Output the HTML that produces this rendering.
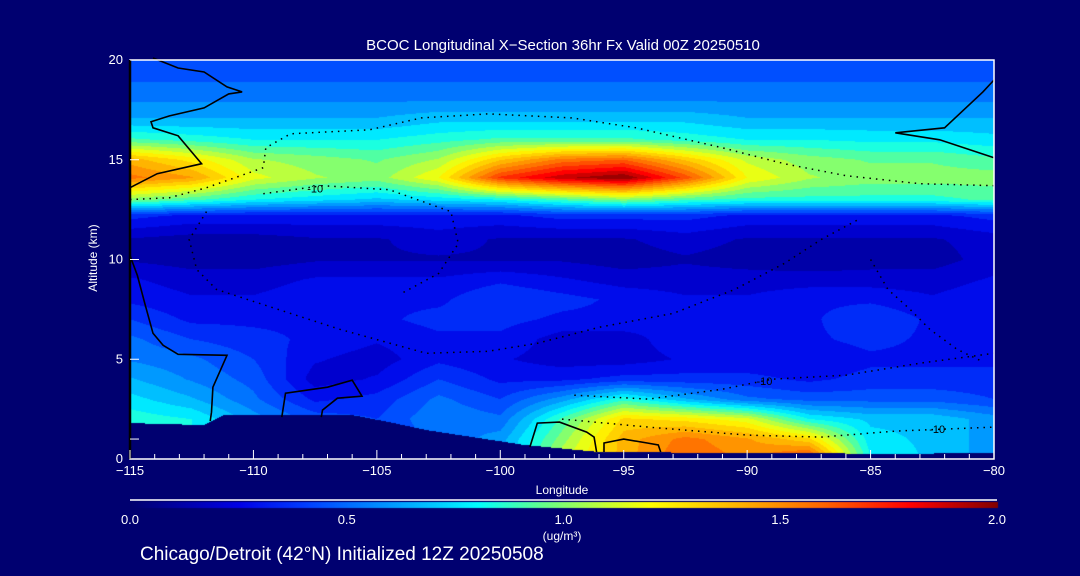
<!DOCTYPE html>
<html><head><meta charset="utf-8"><style>
html,body{margin:0;padding:0;background:#000070;}
#wrap{position:relative;width:1080px;height:576px;background:#000070;overflow:hidden;font-family:"Liberation Sans",sans-serif;color:#fff;}
canvas{position:absolute;left:0;top:0;}
svg{position:absolute;left:0;top:0;}
</style></head><body>
<div id="wrap">
<canvas id="cv" width="1080" height="576"></canvas>
<svg id="sv" width="1080" height="576"></svg>
</div>
<script>
const lons=[-115,-112.5,-110,-107.5,-105,-102.5,-100,-97.5,-95,-92.5,-90,-87.5,-85,-82.5,-80];
const alts=[0,1,2,3,4,5,6,7,8,9,10,11,12.2,13.0,14.1,15,16,17,18,19,20];
const field=[
[0.8,0.8,0.6,0.5,0.4,0.5,0.6,1.1,1.4,1.6,1.5,1.7,0.8,0.7,0.6],
[0.8,0.8,0.6,0.5,0.4,0.5,0.6,1.0,1.4,1.55,1.45,1.3,0.75,0.7,0.6],
[0.85,0.8,0.6,0.45,0.4,0.55,0.5,0.9,1.3,1.25,1.15,0.8,0.7,0.7,0.6],
[0.75,0.65,0.5,0.3,0.35,0.5,0.4,0.6,0.85,0.65,0.5,0.45,0.45,0.45,0.4],
[0.65,0.55,0.45,0.2,0.25,0.4,0.3,0.3,0.35,0.35,0.35,0.3,0.35,0.35,0.35],
[0.55,0.5,0.4,0.25,0.2,0.3,0.25,0.2,0.2,0.25,0.25,0.25,0.3,0.3,0.3],
[0.5,0.4,0.35,0.3,0.25,0.3,0.3,0.2,0.2,0.3,0.25,0.3,0.35,0.3,0.3],
[0.4,0.3,0.3,0.3,0.3,0.35,0.35,0.3,0.3,0.25,0.25,0.3,0.4,0.3,0.3],
[0.3,0.25,0.25,0.3,0.3,0.3,0.4,0.35,0.3,0.25,0.25,0.3,0.3,0.25,0.3],
[0.25,0.2,0.2,0.25,0.25,0.25,0.3,0.25,0.2,0.2,0.2,0.2,0.2,0.2,0.25],
[0.15,0.12,0.12,0.15,0.15,0.15,0.15,0.15,0.12,0.15,0.12,0.1,0.12,0.12,0.2],
[0.15,0.12,0.12,0.15,0.15,0.2,0.15,0.15,0.15,0.2,0.15,0.15,0.15,0.15,0.2],
[0.35,0.3,0.3,0.3,0.3,0.3,0.3,0.35,0.35,0.35,0.3,0.3,0.3,0.3,0.35],
[1.0,0.9,0.8,0.75,0.7,0.75,0.8,0.9,1.0,0.9,0.85,0.85,0.85,0.85,0.9],
[1.55,1.45,1.15,1.05,1.0,1.2,1.7,1.9,2.0,1.65,1.2,1.05,1.0,1.0,1.0],
[1.4,1.25,1.05,1.0,0.95,1.05,1.35,1.55,1.6,1.35,1.1,1.0,0.95,0.95,0.9],
[0.9,0.85,0.8,0.8,0.8,0.85,0.9,0.9,0.9,0.85,0.8,0.8,0.78,0.78,0.75],
[0.65,0.65,0.65,0.65,0.65,0.7,0.7,0.7,0.7,0.7,0.65,0.65,0.65,0.65,0.65],
[0.55,0.55,0.55,0.55,0.55,0.55,0.55,0.55,0.55,0.55,0.55,0.55,0.55,0.55,0.55],
[0.47,0.47,0.47,0.47,0.47,0.47,0.47,0.47,0.47,0.47,0.47,0.47,0.47,0.47,0.47],
[0.4,0.4,0.4,0.4,0.4,0.4,0.4,0.4,0.4,0.4,0.4,0.4,0.4,0.4,0.4]];
const terrainLon=[-115,-112,-111.2,-106,-104.5,-103,-99,-96,-90,-87,-85,-80];
const terrainAlt=[1.8,1.7,2.2,2.2,1.85,1.45,0.7,0.35,0.3,0.3,0.25,0.3];
const xTicks=[-115,-110,-105,-100,-95,-90,-85,-80];
const yTicks=[0,5,10,15,20];
const cbTicks=[0.0,0.5,1.0,1.5,2.0];
const solid0a=[[-114.07,20.1],[-113.05,19.6],[-112,19.4],[-111.07,18.65],[-110.46,18.4],[-111,18.3],[-112,17.6],[-113.4,17.2],[-114.15,16.9],[-114.07,16.6],[-113.05,16.2],[-112.1,14.8],[-113.9,14.3],[-115,13.6]];
const solid0b=[[-115,10.2],[-114.7,9.2],[-114.4,7.8],[-114.07,6.3],[-113.66,5.7],[-113.05,5.25],[-111.07,5.2],[-111.64,3.6],[-111.7,2.35],[-111.75,1.9]];
const solid0c=[[-108.85,2.1],[-108.7,3.3],[-107,3.6],[-106,3.95],[-105.6,3.15],[-106.6,3.05],[-107.2,2.45],[-107.25,2.1]];
const solid0d=[[-98.8,0.6],[-98.5,1.8],[-97.6,1.85],[-96.5,1.35],[-96.2,1.1],[-96.1,0.35]];
const solid0e=[[-95.8,0.35],[-95.8,0.8],[-95,1.0],[-94.05,0.8],[-93.6,0.7],[-93.5,0.35]];
const solid0f=[[-80,19.0],[-80.45,18.4],[-82,16.6],[-84,16.35],[-82.2,16],[-80,15.1]];
const dotA=[[-115,13.0],[-113.4,13.1],[-111.9,13.6],[-109.6,14.6],[-109.5,15.6],[-108.5,16.3],[-105.3,16.5],[-103.2,17.1],[-100.5,17.3],[-97.1,17.1],[-94.5,16.6],[-91,15.6],[-88.5,14.8],[-86,14.2],[-83,13.8],[-80,13.7]];
const dotB=[[-111.9,12.4],[-112.6,11],[-112.3,9.5],[-111.5,8.5],[-109,7.5],[-106.5,6.5],[-103,5.3],[-100.5,5.4],[-98.5,5.8],[-96,6.6],[-93,7.3],[-90.5,8.5],[-88.5,9.8],[-87,11],[-85.5,12]];
const dotC=[[-109.6,13.3],[-107.2,13.7],[-104.5,13.5],[-102,12.4],[-101.7,10.8],[-102.5,9.3],[-104,8.3]];
const dotD=[[-97,3.2],[-94,3.0],[-91,3.5],[-89,4.0],[-86,4.2],[-83,4.8],[-80,5.3]];
const dotE=[[-97.5,2.0],[-94,1.6],[-90,1.2],[-87,1.1],[-84,1.4],[-82,1.5],[-80,1.6]];
const dotF=[[-85,10],[-84.3,8.5],[-83.4,7.5],[-82.6,6.5],[-81.5,5.5],[-80.5,4.9]];

const X0=130,X1=994,Y0=459,Y1=60;
function xs(l){return X0+(l+115)/35*(X1-X0);}
function ys(a){return Y0-a/20*(Y0-Y1);}
const stops=[[0,0,0,110],[0.25,0,0,230],[0.4,0,60,255],[0.55,0,130,255],[0.7,0,200,255],[0.8,0,255,255],[0.95,100,255,140],[1.1,200,255,50],[1.2,255,255,0],[1.4,255,180,0],[1.6,255,100,0],[1.8,255,0,0],[2.0,130,0,0]];
function cmap(v){v=Math.max(0,Math.min(2,v));for(let i=1;i<stops.length;i++){if(v<=stops[i][0]){const a=stops[i-1],b=stops[i],t=(v-a[0])/(b[0]-a[0]);return [a[1]+t*(b[1]-a[1]),a[2]+t*(b[2]-a[2]),a[3]+t*(b[3]-a[3])];}}return [130,0,0];}
function idx(arr,v){for(let i=0;i<arr.length-1;i++){if(v<=arr[i+1])return [i,(v-arr[i])/(arr[i+1]-arr[i])];}return [arr.length-2,1];}
function terrainAt(l){const [i,t]=idx(terrainLon,l);return terrainAlt[i]+t*(terrainAlt[i+1]-terrainAlt[i]);}
const cv=document.getElementById('cv');const ctx=cv.getContext('2d');
const W=X1-X0,H=Y0-Y1;const img=ctx.createImageData(W,H);
for(let py=0;py<H;py++){const a=(Y0-(Y1+py+0.5))/(Y0-Y1)*20;const [j,u]=idx(alts,a);
 for(let px=0;px<W;px++){const l=-115+(px+0.5)/W*35;let r,g,b;
  if(a<terrainAt(l)){r=0;g=0;b=112;}else{const [i,t]=idx(lons,l);
   const v=(1-u)*((1-t)*field[j][i]+t*field[j][i+1])+u*((1-t)*field[j+1][i]+t*field[j+1][i+1]);
   const q=Math.floor(v/0.08)*0.08+0.04;[r,g,b]=cmap(q);}
  const k=(py*W+px)*4;img.data[k]=r;img.data[k+1]=g;img.data[k+2]=b;img.data[k+3]=255;}}
ctx.putImageData(img,X0,Y1);
for(let px=0;px<=867;px++){const c=cmap(px/867*2);ctx.fillStyle=`rgb(${c[0]|0},${c[1]|0},${c[2]|0})`;ctx.fillRect(130+px,502,1,6);}

const NS='http://www.w3.org/2000/svg';const sv=document.getElementById('sv');
function mk(tag,attrs,parent){const e=document.createElementNS(NS,tag);for(const k in attrs)e.setAttribute(k,attrs[k]);(parent||sv).appendChild(e);return e;}
function line(pts,name,dotted){const e=mk('polyline',{points:pts.map(p=>xs(p[0]).toFixed(1)+','+ys(p[1]).toFixed(1)).join(' '),fill:'none',stroke:'#000','stroke-width':dotted?1.5:1.6,'stroke-dasharray':dotted?'1.5,5':'none'});
 
 }
line(solid0a,'contour-zero-upper-left',false);line(solid0b,'contour-zero-lower-left',false);line(solid0c,'contour-zero-loop',false);
line(solid0d,'contour-zero-surface-a',false);line(solid0e,'contour-zero-surface-b',false);line(solid0f,'contour-zero-upper-right',false);
line(dotA,'contour-minus10-upper',true);line(dotB,'contour-minus10-middle',true);line(dotC,'contour-minus20',true);
line(dotD,'contour-minus10-lower',true);line(dotE,'contour-minus10-surface',true);line(dotF,'contour-minus20-right',true);
function txt(x,y,s,name,opts){const e=mk('text',Object.assign({x:x,y:y,fill:'#fff','font-size':13,'font-family':'Liberation Sans, sans-serif'},opts||{}));e.textContent=s;
 
 return e;}
txt(xs(-107.5),ys(13.55)+4,'-10','contour-label',{fill:'#000','font-size':11,'text-anchor':'middle'});
txt(xs(-89.3),ys(3.9)+4,'-10','contour-label',{fill:'#000','font-size':11,'text-anchor':'middle'});
txt(xs(-82.3),ys(1.5)+4,'-10','contour-label',{fill:'#000','font-size':11,'text-anchor':'middle'});
mk('rect',{x:X0,y:Y1,width:X1-X0,height:Y0-Y1,fill:'none',stroke:'#fff','stroke-width':1.5});
mk('line',{x1:X0,y1:Y1,x2:X0,y2:Y0,stroke:'#000','stroke-width':2.5});
for(let l=-115;l<=-80;l++){const maj=(l%5===0);mk('line',{x1:xs(l),y1:Y0,x2:xs(l),y2:Y0-(maj?9:5),stroke:'#fff','stroke-width':1});}
for(let a=0;a<=20;a++){if(a%5!==0)continue;mk('line',{x1:X0,y1:ys(a),x2:X0+9,y2:ys(a),stroke:'#fff','stroke-width':1});}
mk('line',{x1:X0,y1:ys(1),x2:X0+9,y2:ys(1),stroke:'#fff','stroke-width':1});
xTicks.forEach(v=>txt(xs(v),475,'\u2212'+Math.abs(v),'x-tick-label',{'text-anchor':'middle'}));
yTicks.forEach(v=>txt(123,ys(v)+4,String(v),'y-tick-label',{'text-anchor':'end'}));
txt(562,494,'Longitude','x-axis-title',{'text-anchor':'middle','font-size':12});
txt(97,258,'Altitude (km)','y-axis-title',{'text-anchor':'middle','font-size':12,transform:'rotate(-90 97 258)'});
txt(563,50,'BCOC Longitudinal X\u2212Section 36hr  Fx Valid 00Z 20250510','chart-title',{'text-anchor':'middle','font-size':15});
mk('line',{x1:130,y1:500,x2:997,y2:500,stroke:'#fff','stroke-width':1.5});
cbTicks.forEach(v=>txt(130+v/2*867,524,v.toFixed(1),'colorbar-tick-label',{'text-anchor':'middle'}));
txt(562,540,'(ug/m\u00b3)','colorbar-unit',{'text-anchor':'middle','font-size':12});
txt(140,560,'Chicago/Detroit (42\u00b0N) Initialized 12Z 20250508','subtitle',{'font-size':19});
</script>
</body></html>
